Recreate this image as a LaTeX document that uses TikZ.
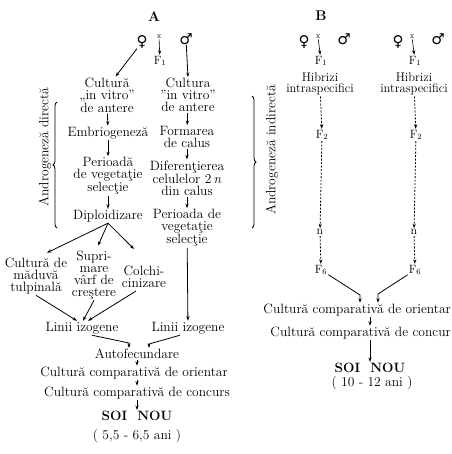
\documentclass[tikz,border=0pt]{standalone}
\usepackage{fontspec}
\newfontfamily\symbfont{DejaVu Sans}
\usetikzlibrary{%
	arrows.meta,%
	calc,%
	positioning,%
	decorations.pathreplacing,%
}
\tikzset{
	>={Stealth[length=4.5pt,width=3.2pt]},%
	nodes={align=center},%
	txt/.style={%
			inner sep=1pt,%
			font=\fontsize{13.5}{12}\selectfont},%
	gen/.style={%
			inner sep=1pt,%
			font=\fontsize{12}{12}\selectfont},%
	cross/.style={%
			inner sep=0.5pt,%
			font=\fontsize{8}{8}\selectfont},%
	sex/.style={%
			inner sep=0pt,%
			font=\symbfont\bfseries\fontsize{15}{15}\selectfont},%
	part/.style={%
			font=\bfseries\fontsize{14}{14}\selectfont},%
	soi/.style={%
			inner sep=1pt,%
			font=\bfseries\fontsize{13.5}{13.5}\selectfont},%
	flow/.style={->, line width=0.8pt},%
	dflow/.style={->, line width=0.8pt, dash pattern=on 2pt off 1.5pt},%
	androbrace/.style={%
			decorate,%
			decoration={brace, amplitude=4pt},%
			line width=0.8pt},%
}
\begin{document}
\begin{tikzpicture}[x=1pt, y=-1pt]
	\useasboundingbox (0,0) rectangle (451,454);

	% A
	\node[part] (titleA) at (154,17) {A};
	\node[sex] (femA) at (142,42) {♀};
	\node[cross] (xA) at (159,37) {x};
	\node[sex] (mascA) at (186,39) {♂};
	\node[gen] (foneA) at (160,61) {F$_1$};
	\draw[->, line width=0.6pt] (xA) -- (foneA);

	\node[txt] (cultL) at (107,95) {Cultură\\„in vitro”\\de antere};
	\node[txt] (cultR) at (188,95) {Cultura\\”in vitro”\\de antere};
	\draw[flow] (femA) -- (cultL.65);
	\draw[flow] (mascA) -- (cultR.north);

	\node[txt] (embrio) at (108,133) {Embriogeneză};
	\node[txt] (perL) at (108,176) {Perioadă\\de vegetaţie\\selecţie};
	\node[txt] (diplo) at (108,216) {Diploidizare};
	\draw[flow] (cultL) -- (embrio);
	\draw[flow] (embrio) -- (perL);
	\draw[flow] (perL) -- (diplo);

	\node[txt] (formR) at (187,137) {Formarea\\de calus};
	\node[txt] (difR) at (187,178) {Diferenţierea\\celulelor 2\,\textit{n}\\din calus};
	\node[txt] (perR) at (187,228) {Perioada de\\vegetaţie\\selecţie};
	\draw[flow] (cultR) -- (formR);
	\draw[flow] (formR) -- (difR);
	\draw[flow] (difR) -- (perR);

	\draw[androbrace] (57,228) -- (57,102);
	\node[txt, rotate=90] (dirLbl) at (45,147) {Androgeneză directă};
	\draw[androbrace] (252,96) -- (252,228);
	\node[txt, rotate=90] (indLbl) at (272,150) {Androgeneză indirectă};

	\node[txt] (cultMad) at (36,276) {Cultură de\\măduvă\\tulpinală};
	\node[txt] (supr) at (94,275) {Supri-\\mare\\vârf de\\creştere};
	\node[txt] (colch) at (144,277) {Colchi-\\cinizare};
	\draw[flow] (diplo.south) -- ($(cultMad.north)+(11,-4)$);
	\draw[flow] (diplo.south) -- ($(supr.north)+(4,-4)$);
	\draw[flow] (diplo.south) -- ($(colch.north)+(-10,-16)$);

	\node[txt] (liniiL) at (82,328) {Linii izogene};
	\node[txt] (liniiR) at (188,328) {Linii izogene};
	\draw[flow] (cultMad.south) -- ($(liniiL.north)+(-5,0)$);
	\draw[flow] (supr.south) -- ($(liniiL.north)+(1,0)$);
	\draw[flow] ($(colch.south)+(-8,2)$) -- ($(liniiL.north)+(6,0)$);
	\draw[flow] (perR) -- (liniiR);

	\node[txt] (auto) at (137,354) {Autofecundare};
	\coordinate (joinL) at (129,343);
	\coordinate (joinR) at (149,344);
	\draw[flow] ($(liniiL.south)+(10,0)$) -- (joinL) -- (joinL |- auto.north);
	\draw[flow] ($(liniiR.south)+(-8,0)$) -- (joinR) -- (joinR |- auto.north);

	\node[txt] (orA) at (134,373) {Cultură comparativă de orientar};
	\node[txt] (conA) at (137,393) {Cultură comparativă de concurs};
	\node[soi] (soiA) at (137,416) {SOI\ \ NOU};
	\node[txt] (aniA) at (137,436) {( 5,5 - 6,5 ani )};
	\draw[flow] (auto.south) -- (auto.south |- orA.north);
	\draw[flow] (auto.south |- orA.south) -- (auto.south |- conA.north);
	\draw[flow] (conA.south) -- (soiA.north);

	% B
	\node[part] (titleB) at (321,16) {B};
	\foreach \i/\x in {1/320, 2/414} {
		\node[sex] (femB\i) at (\x-16,42) {♀};
		\node[cross] (xB\i) at (\x-2,37) {x};
		\node[sex] (mascB\i) at (\x+24,39) {♂};
		\node[gen] (foneB\i) at (\x+1,61) {F$_1$};
		\draw[->, line width=0.6pt] (xB\i) -- (foneB\i);
		\node[txt, font=\fontsize{12.5}{11.5}\selectfont] (hibB\i) at (\x,84) {Hibrizi\\intraspecifici};
		\node[gen] (ftwoB\i) at (\x+2,135) {F$_2$};
		\node[gen] (nB\i) at (\x,232) {n};
		\node[gen] (fsixB\i) at (\x+1,270) {F$_6$};
		\draw[dflow] (hibB\i) -- (ftwoB\i);
		\draw[dflow] (ftwoB\i) -- (nB\i);
		\draw[dflow] (nB\i) -- (fsixB\i);
	}

	\node[txt, anchor=east] (orB) at (452,310) {Cultură comparativă de orientar};
	\node[txt, anchor=east] (conB) at (452,333) {Cultură comparativă de concur};
	\node[soi] (soiB) at (370,368) {SOI\ \ NOU};
	\node[txt] (aniB) at (372,383) {( 10 - 12 ani )};
	\coordinate (joinBL) at (360,295);
	\coordinate (joinBR) at (378,294);
	\draw[flow] (fsixB1) -- (joinBL) -- (joinBL |- orB.north);
	\draw[flow] (fsixB2) -- (joinBR) -- (joinBR |- orB.north);
	\draw[flow] (soiB |- orB.south) -- (soiB |- conB.north);
	\draw[flow] (soiB |- conB.south) -- (soiB.north);
\end{tikzpicture}
\end{document}
